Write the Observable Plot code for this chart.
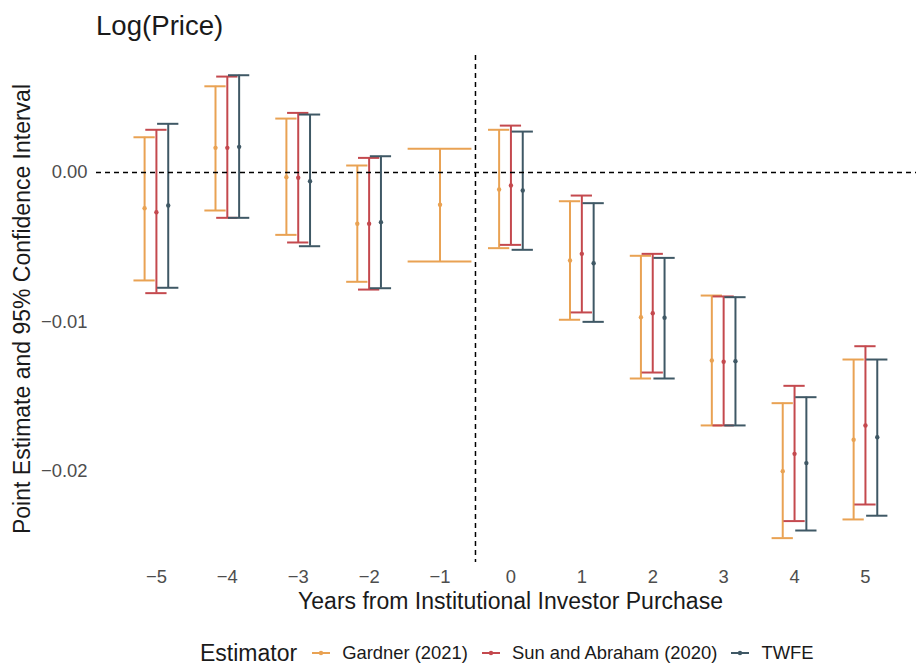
<!DOCTYPE html>
<html>
<head>
<meta charset="utf-8">
<script src="https://cdn.jsdelivr.net/npm/d3@7"></script>
<script src="https://cdn.jsdelivr.net/npm/@observablehq/plot@0.6"></script>
<style>
  html, body { margin: 0; padding: 0; background: #fff; overflow: hidden; }
  body { width: 916px; height: 664px; font-family: "Liberation Sans", Arial, sans-serif; }
  #title { height: 45px; box-sizing: border-box; padding-top: 12px; padding-left: 96px;
           font-size: 27.6px; line-height: 27.6px; color: #1a1a1a; white-space: nowrap; }
  #chart svg { display: block; }
  #legend { height: 34px; display: flex; align-items: center; padding-left: 200px;
            white-space: nowrap; color: #1a1a1a; }
  #legend .ltitle { font-size: 23px; margin-right: 15px; }
  #legend .item { display: flex; align-items: center; font-size: 18.4px; margin-right: 14px; }
  #legend .item svg { margin-right: 12px; }
</style>
</head>
<body>
<div id="title">Log(Price)</div>
<div id="chart"></div>
<div id="legend"></div>
<script>
// ---- data ----
const years = [-5, -4, -3, -2, -1, 0, 1, 2, 3, 4, 5];
const estimators = ["Gardner (2021)", "Sun and Abraham (2020)", "TWFE"];
const colors = ["#E9A253", "#C4494E", "#3F5865"];

const gardnerEst = [-0.00239, 0.00165, -0.00031, -0.00343, -0.00216, -0.00114, -0.00589, -0.00968, -0.01258, -0.01998, -0.01788];
const gardnerLo  = [-0.00722, -0.00254, -0.00417, -0.00731, -0.00595, -0.00506, -0.00985, -0.01378, -0.01692, -0.02446, -0.02321];
const gardnerHi  = [0.00236, 0.00577, 0.00361, 0.00047, 0.00159, 0.00286, -0.00192, -0.00557, -0.00823, -0.01543, -0.01251];

const sunEst = [-0.00266, 0.00165, -0.00035, -0.00343, null, -0.00087, -0.00544, -0.00941, -0.01266, -0.01882, -0.01692];
const sunLo  = [-0.00807, -0.00303, -0.00468, -0.00783, null, -0.00484, -0.00936, -0.01338, -0.01692, -0.02332, -0.02221];
const sunHi  = [0.00286, 0.00642, 0.00399, 0.00098, null, 0.00314, -0.00154, -0.00544, -0.00829, -0.01427, -0.01162];

const twfeEst = [-0.00221, 0.00172, -0.00058, -0.00332, null, -0.00120, -0.00607, -0.00972, -0.01262, -0.01944, -0.01771];
const twfeLo  = [-0.00771, -0.00303, -0.00493, -0.00774, null, -0.00517, -0.00999, -0.01378, -0.01692, -0.02395, -0.02296];
const twfeHi  = [0.00326, 0.00651, 0.00388, 0.00109, null, 0.00274, -0.00205, -0.00571, -0.00834, -0.01503, -0.01251];

const yTicks = [0, -0.01, -0.02];
const xLabel = "Years from Institutional Investor Purchase";
const yLabel = "Point Estimate and 95% Confidence Interval";

// ---- build table ----
const series = [
  [gardnerEst, gardnerLo, gardnerHi],
  [sunEst, sunLo, sunHi],
  [twfeEst, twfeLo, twfeHi]
];
const rows = [];
years.forEach((yr, j) => {
  const present = series.map((s, i) => i).filter(i => series[i][0][j] != null);
  const n = present.length;
  present.forEach((i, k) => {
    rows.push({
      year: yr,
      estimator: estimators[i],
      est: series[i][0][j],
      lo: series[i][1][j],
      hi: series[i][2][j],
      off: (k - (n - 1) / 2) * 0.5 / n,
      hw: 0.45 / n
    });
  });
});

const xc = d => d.year + d.off;
const dash = { stroke: "black", strokeWidth: 1.5, strokeDasharray: "5,4" };

const chart = Plot.plot({
  width: 916,
  height: 591,
  marginTop: 10,
  marginBottom: 74,
  marginLeft: 96,
  marginRight: 0,
  style: { fontFamily: "Liberation Sans, Arial, sans-serif", fontSize: "18.4px", color: "#4D4D4D", background: "white" },
  x: { domain: [-5.845, 5.72], ticks: years, tickFormat: d3.format("d"), tickSize: 0, tickPadding: 7, label: null },
  y: { domain: [-0.02609, 0.00783], ticks: yTicks, tickFormat: d3.format(".2f"), tickSize: 0, tickPadding: 9, label: null },
  color: { domain: estimators, range: colors },
  marks: [
    Plot.ruleX(rows, { x: xc, y1: "lo", y2: "hi", stroke: "estimator", strokeWidth: 2 }),
    Plot.ruleY(rows, { y: "lo", x1: d => xc(d) - d.hw, x2: d => xc(d) + d.hw, stroke: "estimator", strokeWidth: 2 }),
    Plot.ruleY(rows, { y: "hi", x1: d => xc(d) - d.hw, x2: d => xc(d) + d.hw, stroke: "estimator", strokeWidth: 2 }),
    Plot.dot(rows, { x: xc, y: "est", fill: "estimator", r: 2.2 }),
    Plot.ruleY([0], dash),
    Plot.ruleX([-0.5], dash),
    Plot.text([xLabel], { text: d => d, frameAnchor: "bottom", dy: 39, dx: 4, fontSize: 23, fill: "#1a1a1a", textAnchor: "middle", lineAnchor: "middle" }),
    Plot.text([yLabel], { text: d => d, frameAnchor: "left", dx: -74, rotate: -90, fontSize: 23, fill: "#1a1a1a", textAnchor: "middle", lineAnchor: "middle" })
  ]
});
document.getElementById("chart").appendChild(chart);

// ---- legend ----
const legend = document.getElementById("legend");
const lt = document.createElement("span");
lt.className = "ltitle";
lt.textContent = "Estimator";
legend.appendChild(lt);
estimators.forEach((name, i) => {
  const item = document.createElement("span");
  item.className = "item";
  const c = colors[i];
  item.innerHTML = `<svg width="18" height="12"><line x1="0" x2="18" y1="6" y2="6" stroke="${c}" stroke-width="2"/><circle cx="9" cy="6" r="2.2" fill="${c}"/></svg>`;
  const t = document.createElement("span");
  t.textContent = name;
  item.appendChild(t);
  legend.appendChild(item);
});
</script>
</body>
</html>
